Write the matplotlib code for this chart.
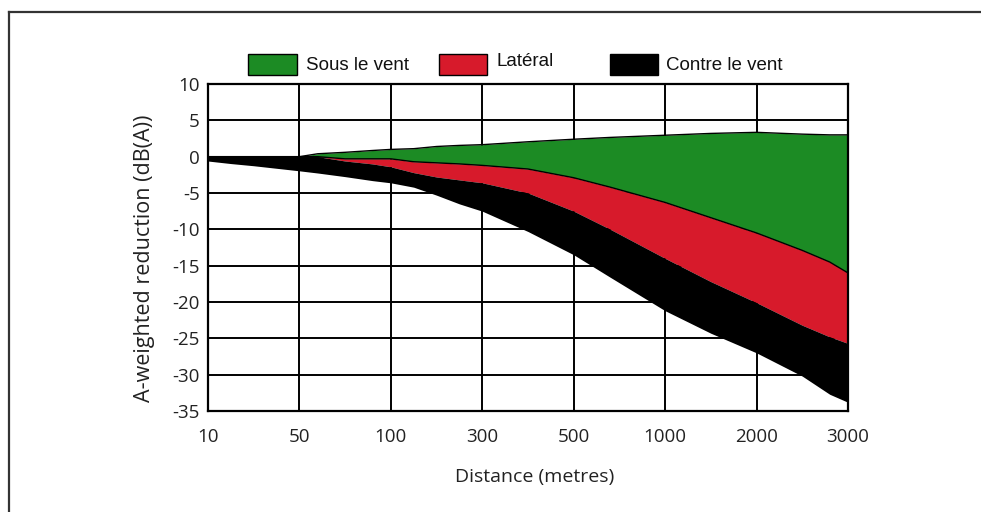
import numpy as np
import matplotlib
matplotlib.use("Agg")
import matplotlib.pyplot as plt
from matplotlib.patches import Rectangle
from matplotlib.lines import Line2D

# ---- data ----
tick_distances = [10, 50, 100, 300, 500, 1000, 2000, 3000]
y_ticks = [10, 5, 0, -5, -10, -15, -20, -25, -30, -35]

distance = [10, 20, 30, 50, 60, 75, 90, 100, 150, 200, 250, 300, 400, 500,
            700, 1000, 1500, 2000, 2500, 2800, 3000]
# upper edge of "Sous le vent" (downwind) band
sous_top = [0, 0, 0, 0, 0.4, 0.6, 0.85, 1.0, 1.1, 1.4, 1.55, 1.65, 2.05, 2.4,
            2.65, 2.95, 3.2, 3.35, 3.1, 3.0, 3.0]
# upper edge of "Latéral" band (= lower edge of downwind)
lat_top = [0, 0, 0, 0, 0, -0.3, -0.3, -0.3, -0.7, -0.85, -1.0, -1.2, -1.7, -2.9,
           -4.2, -6.3, -8.4, -10.5, -12.9, -14.5, -16.0]
# upper edge of "Contre le vent" band (= lower edge of lateral)
contre_top = [0, 0, 0, 0, 0, -0.6, -1.0, -1.4, -2.2, -2.8, -3.2, -3.6, -5.0, -7.5,
              -10.0, -14.0, -17.2, -20.1, -23.2, -24.8, -25.7]
# lower edge of "Contre le vent" band
contre_bottom = [-0.6, -0.95, -1.25, -1.95, -2.25, -2.75, -3.3, -3.6, -4.2, -5.3,
                 -6.5, -7.5, -10.3, -13.5, -16.6, -21.2, -24.3, -27.0, -30.2,
                 -32.7, -33.8]

labels = ["Sous le vent", "Latéral", "Contre le vent"]
colors = ["#1c8b24", "#d71a2b", "#000000"]

# ---- figure ----
W, H = 981, 512
fig = plt.figure(figsize=(W / 100, H / 100), dpi=100)
fig.patch.set_facecolor("white")

ax = fig.add_axes([208 / W, 1 - 411 / H, 640 / W, 327 / H])

pos = np.arange(len(tick_distances), dtype=float)
td = np.array(tick_distances, dtype=float)


def fwd(x):
    return np.interp(x, td, pos)


def inv(p):
    return np.interp(p, pos, td)


ax.set_xscale("function", functions=(fwd, inv))

d = np.array(distance, dtype=float)
ax.fill_between(d, sous_top, lat_top, color=colors[0], lw=0, zorder=2)
ax.fill_between(d, lat_top, contre_top, color=colors[1], lw=0, zorder=2)
ax.fill_between(d, contre_top, contre_bottom, color=colors[2], lw=0, zorder=2)
ax.plot(d, sous_top, color="black", lw=1.0, zorder=3)
ax.plot(d, lat_top, color="black", lw=1.0, zorder=3)
ax.plot([3000, 3000], [sous_top[-1], lat_top[-1]], color="black", lw=1.0, zorder=3)

ax.set_xlim(10, 3000)
ax.set_ylim(-35, 10)
ax.set_xticks(tick_distances)
ax.set_xticklabels([str(t) for t in tick_distances])
ax.set_yticks(y_ticks)
ax.set_yticklabels([str(t) for t in y_ticks])
ax.xaxis.set_minor_locator(matplotlib.ticker.NullLocator())
ax.yaxis.set_minor_locator(matplotlib.ticker.NullLocator())

ax.grid(True, color="black", lw=1.4, zorder=1)
ax.set_axisbelow(True)
for s in ax.spines.values():
    s.set_color("black")
    s.set_linewidth(1.6)

fam = ["Open Sans", "DejaVu Sans"]
ax.tick_params(axis="both", length=0, colors="#222222")
ax.tick_params(axis="x", pad=12)
ax.tick_params(axis="y", pad=6)
for lab in ax.get_xticklabels() + ax.get_yticklabels():
    lab.set_fontfamily(fam)
    lab.set_fontsize(13.5)

ax.set_xlabel("Distance (metres)", fontsize=14, family=fam, color="#222222")
ax.set_ylabel("A-weighted reduction (dB(A))", fontsize=15.5, family=fam, color="#222222")
ax.xaxis.set_label_coords((535 - 208) / 640, -(468 - 411) / 327)
ax.yaxis.set_label_coords((155 - 208) / 640, (411 - 258) / 327)

# ---- legend (manual) ----
leg_font = ["Liberation Sans Narrow", "Liberation Sans", "DejaVu Sans"]
patch_x = [248.5, 439, 610]
text_x = [306, 497, 666]
text_y = [65, 62, 65]
for c, lab, px, tx, ty in zip(colors, labels, patch_x, text_x, text_y):
    fig.add_artist(Rectangle((px / W, 1 - 75 / H), 48 / W, 21 / H,
                             transform=fig.transFigure, facecolor=c,
                             edgecolor="black", lw=1.0))
    fig.text(tx / W, 1 - ty / H, lab, ha="left", va="center",
             fontsize=13.5, family=leg_font, color="#111111")

# ---- outer frame (top and left only) ----
fig.add_artist(Line2D([9 / W, 1.0], [1 - 11.5 / H, 1 - 11.5 / H],
                      transform=fig.transFigure, color="#333333", lw=1.6))
fig.add_artist(Line2D([9 / W, 9 / W], [0, 1 - 11.5 / H],
                      transform=fig.transFigure, color="#333333", lw=1.6))

fig.savefig("out.png", dpi=100)
